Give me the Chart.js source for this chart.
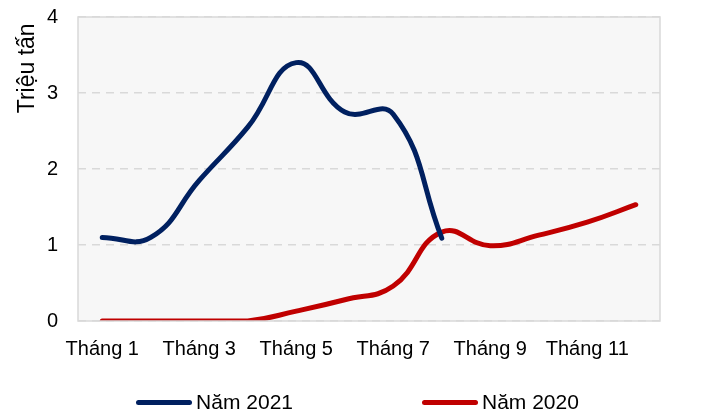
<!DOCTYPE html>
<html>
<head>
<meta charset="utf-8">
<script src="https://cdn.jsdelivr.net/npm/chart.js@4/dist/chart.umd.min.js"></script>
<style>
  html, body { margin: 0; padding: 0; background: #fff; }
  #wrap { position: relative; width: 703px; height: 410px; font-family: "Liberation Sans", Arial, sans-serif; }
  #legend { position: absolute; left: 6px; top: 390px; width: 703px; display: flex; justify-content: center; gap: 129px; font-size: 21px; color: #000; }
  .item { display: flex; align-items: center; }
  .sw { width: 56px; height: 5px; border-radius: 3px; margin-right: 4px; }
</style>
</head>
<body>
<div id="wrap">
  <canvas id="c" width="703" height="410"></canvas>
  <div id="legend"></div>
</div>
<script>
// ---- data ----
const months = ['Tháng 1', 'Tháng 2', 'Tháng 3', 'Tháng 4', 'Tháng 5', 'Tháng 6',
  'Tháng 7', 'Tháng 8', 'Tháng 9', 'Tháng 10', 'Tháng 11', 'Tháng 12'];
const nam2021 = [1.1, 1.1, 1.85, 2.55, 3.4, 2.75, 2.72, 1.09, null, null, null, null];
const nam2020 = [0, 0, 0, 0, 0.13, 0.28, 0.46, 1.17, 0.99, 1.13, 1.3, 1.53];
const yTicks = [0, 1, 2, 3, 4];

const FONT = '"Liberation Sans", Arial, sans-serif';

// plot background + frame
const frame = {
  id: 'frame',
  beforeDraw(chart) {
    const { ctx, chartArea: a } = chart;
    ctx.save();
    ctx.fillStyle = '#f7f7f7';
    ctx.fillRect(a.left, a.top, a.right - a.left, a.bottom - a.top);
    ctx.restore();
  },
  afterDatasetsDraw(chart) {
    const { ctx, chartArea: a } = chart;
    ctx.save();
    ctx.strokeStyle = '#d9d9d9';
    ctx.lineWidth = 1.5;
    ctx.strokeRect(a.left, a.top, a.right - a.left, a.bottom - a.top);
    ctx.restore();
  }
};

const chart = new Chart(document.getElementById('c'), {
  type: 'line',
  data: {
    labels: months,
    datasets: [
      { label: 'Năm 2021', data: nam2021, borderColor: '#002060', borderWidth: 5, tension: 0.45, pointRadius: 0, borderCapStyle: 'round', fill: false },
      { label: 'Năm 2020', data: nam2020, borderColor: '#c00000', borderWidth: 5, tension: 0.45, pointRadius: 0, borderCapStyle: 'round', fill: false },
    ]
  },
  options: {
    responsive: false, animation: false,
    layout: { padding: { top: 17, right: 43, bottom: 33, left: 0 } },
    plugins: { legend: { display: false }, tooltip: { enabled: false } },
    scales: {
      x: {
        offset: true,
        grid: { display: false, drawTicks: false },
        border: { display: false },
        ticks: {
          autoSkip: false, maxRotation: 0, padding: 16, color: '#000',
          font: { family: FONT, size: 20 },
          callback: (v, i) => i % 2 === 0 ? months[i] : ''
        }
      },
      y: {
        min: 0, max: 4,
        afterBuildTicks: s => { s.ticks = yTicks.map(v => ({ value: v })); },
        afterFit: s => { s.width = 78; s.paddingTop = 0; s.paddingBottom = 0; },
        grid: { color: '#d9d9d9', lineWidth: 1.5, drawTicks: false },
        border: { display: false, dash: [8, 6] },
        ticks: { padding: 20, color: '#000', font: { family: FONT, size: 20 } },
        title: { display: true, text: 'Triệu tấn ', align: 'end', color: '#000', font: { family: FONT, size: 23 }, padding: { top: 14, bottom: 0 } }
      }
    }
  },
  plugins: [frame]
});

// legend
document.getElementById('legend').innerHTML = chart.data.datasets.map(d =>
  `<div class="item"><span class="sw" style="background:${d.borderColor}"></span>${d.label}</div>`).join('');
</script>
</body>
</html>
